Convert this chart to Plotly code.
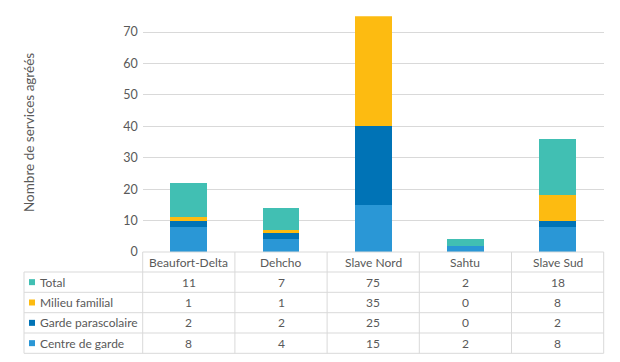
import plotly.graph_objects as go

categories = ["Beaufort-Delta", "Dehcho", "Slave Nord", "Sahtu", "Slave Sud"]
centre_de_garde = [8, 4, 15, 2, 8]
garde_parascolaire = [2, 2, 25, 0, 2]
milieu_familial = [1, 1, 35, 0, 8]
total = [11, 7, 75, 2, 18]
y_ticks = [0, 10, 20, 30, 40, 50, 60, 70]

series = [
    ("Centre de garde", centre_de_garde, "#2A97D6"),
    ("Garde parascolaire", garde_parascolaire, "#0073B6"),
    ("Milieu familial", milieu_familial, "#FDBB11"),
    ("Total", total, "#41BFB3"),
]

W, H = 620, 362
x0_px, x1_px = 142.7, 603.7
ybase_px, ytop_px = 252.0, 16.3
tbl_left = 24.0
row_lines = [272.0, 292.3, 312.7, 333.0, 353.3]
grid_col = "#D9D9D9"
txt_col = "#595959"
FONT = "Lato"

def px(x):
    return x / W

def py(y):
    return 1 - y / H

fig = go.Figure()
for name, vals, col in series:
    fig.add_trace(go.Bar(x=categories, y=vals, name=name, marker=dict(color=col, line=dict(width=0)),
                         showlegend=False, hoverinfo="x+y+name"))

shapes = []
ncat = len(categories)
colw = (x1_px - x0_px) / ncat
shapes.append(dict(type="line", xref="paper", yref="paper", x0=px(x0_px), x1=px(x1_px),
                   y0=py(ybase_px), y1=py(ybase_px), line=dict(color=grid_col, width=1)))
for yl in row_lines:
    shapes.append(dict(type="line", xref="paper", yref="paper", x0=px(tbl_left), x1=px(x1_px),
                       y0=py(yl), y1=py(yl), line=dict(color=grid_col, width=1)))
shapes.append(dict(type="line", xref="paper", yref="paper", x0=px(tbl_left), x1=px(tbl_left),
                   y0=py(row_lines[0]), y1=py(row_lines[-1]), line=dict(color=grid_col, width=1)))
for k in range(ncat + 1):
    xv = x0_px + k * colw
    shapes.append(dict(type="line", xref="paper", yref="paper", x0=px(xv), x1=px(xv),
                       y0=py(ybase_px), y1=py(row_lines[-1]), line=dict(color=grid_col, width=1)))

annotations = []
for c in categories:
    annotations.append(dict(x=c, xref="x", y=py((ybase_px + row_lines[0]) / 2), yref="paper",
                            text=c, showarrow=False, xanchor="center", yanchor="middle",
                            font=dict(family=FONT, size=12, color=txt_col)))
rows = list(reversed(series))
for i, (name, vals, col) in enumerate(rows):
    yc = (row_lines[i] + row_lines[i + 1]) / 2
    shapes.append(dict(type="rect", xref="paper", yref="paper", x0=px(29), x1=px(35),
                       y0=py(yc + 3), y1=py(yc - 3), fillcolor=col, line=dict(width=0)))
    annotations.append(dict(x=px(38), xref="paper", y=py(yc), yref="paper", text=name,
                            showarrow=False, xanchor="left", yanchor="middle",
                            font=dict(family=FONT, size=12, color=txt_col)))
    for c, v in zip(categories, vals):
        annotations.append(dict(x=c, xref="x", y=py(yc), yref="paper", text=str(v),
                                showarrow=False, xanchor="center", yanchor="middle",
                                font=dict(family=FONT, size=12, color=txt_col)))

# y-axis title as rotated annotation
annotations.append(dict(x=px(29), xref="paper", y=py(133), yref="paper",
                        text="Nombre de services agréés", textangle=-90, showarrow=False,
                        xanchor="center", yanchor="middle",
                        font=dict(family=FONT, size=13.5, color=txt_col)))

fig.update_layout(
    width=W, height=H, autosize=False,
    margin=dict(l=0, r=0, t=0, b=0, pad=0),
    paper_bgcolor="white", plot_bgcolor="white",
    barmode="stack", bargap=0.6,
    xaxis=dict(domain=[px(x0_px), px(x1_px)], showticklabels=False, showgrid=False,
               zeroline=False, showline=False, ticks="", automargin=False),
    yaxis=dict(domain=[py(ybase_px), py(ytop_px)], range=[0, 75], tickvals=y_ticks,
               showgrid=True, gridcolor=grid_col, gridwidth=1, zeroline=False, showline=False,
               ticks="", ticklabelstandoff=4, automargin=False,
               tickfont=dict(family=FONT, size=12.5, color=txt_col)),
    shapes=shapes, annotations=annotations,
    font=dict(family=FONT, color=txt_col),
)

fig.write_html("out.html", config={"displayModeBar": False, "responsive": False},
               post_script="document.body.style.margin='0';document.body.style.padding='0';document.body.style.overflow='hidden';")
